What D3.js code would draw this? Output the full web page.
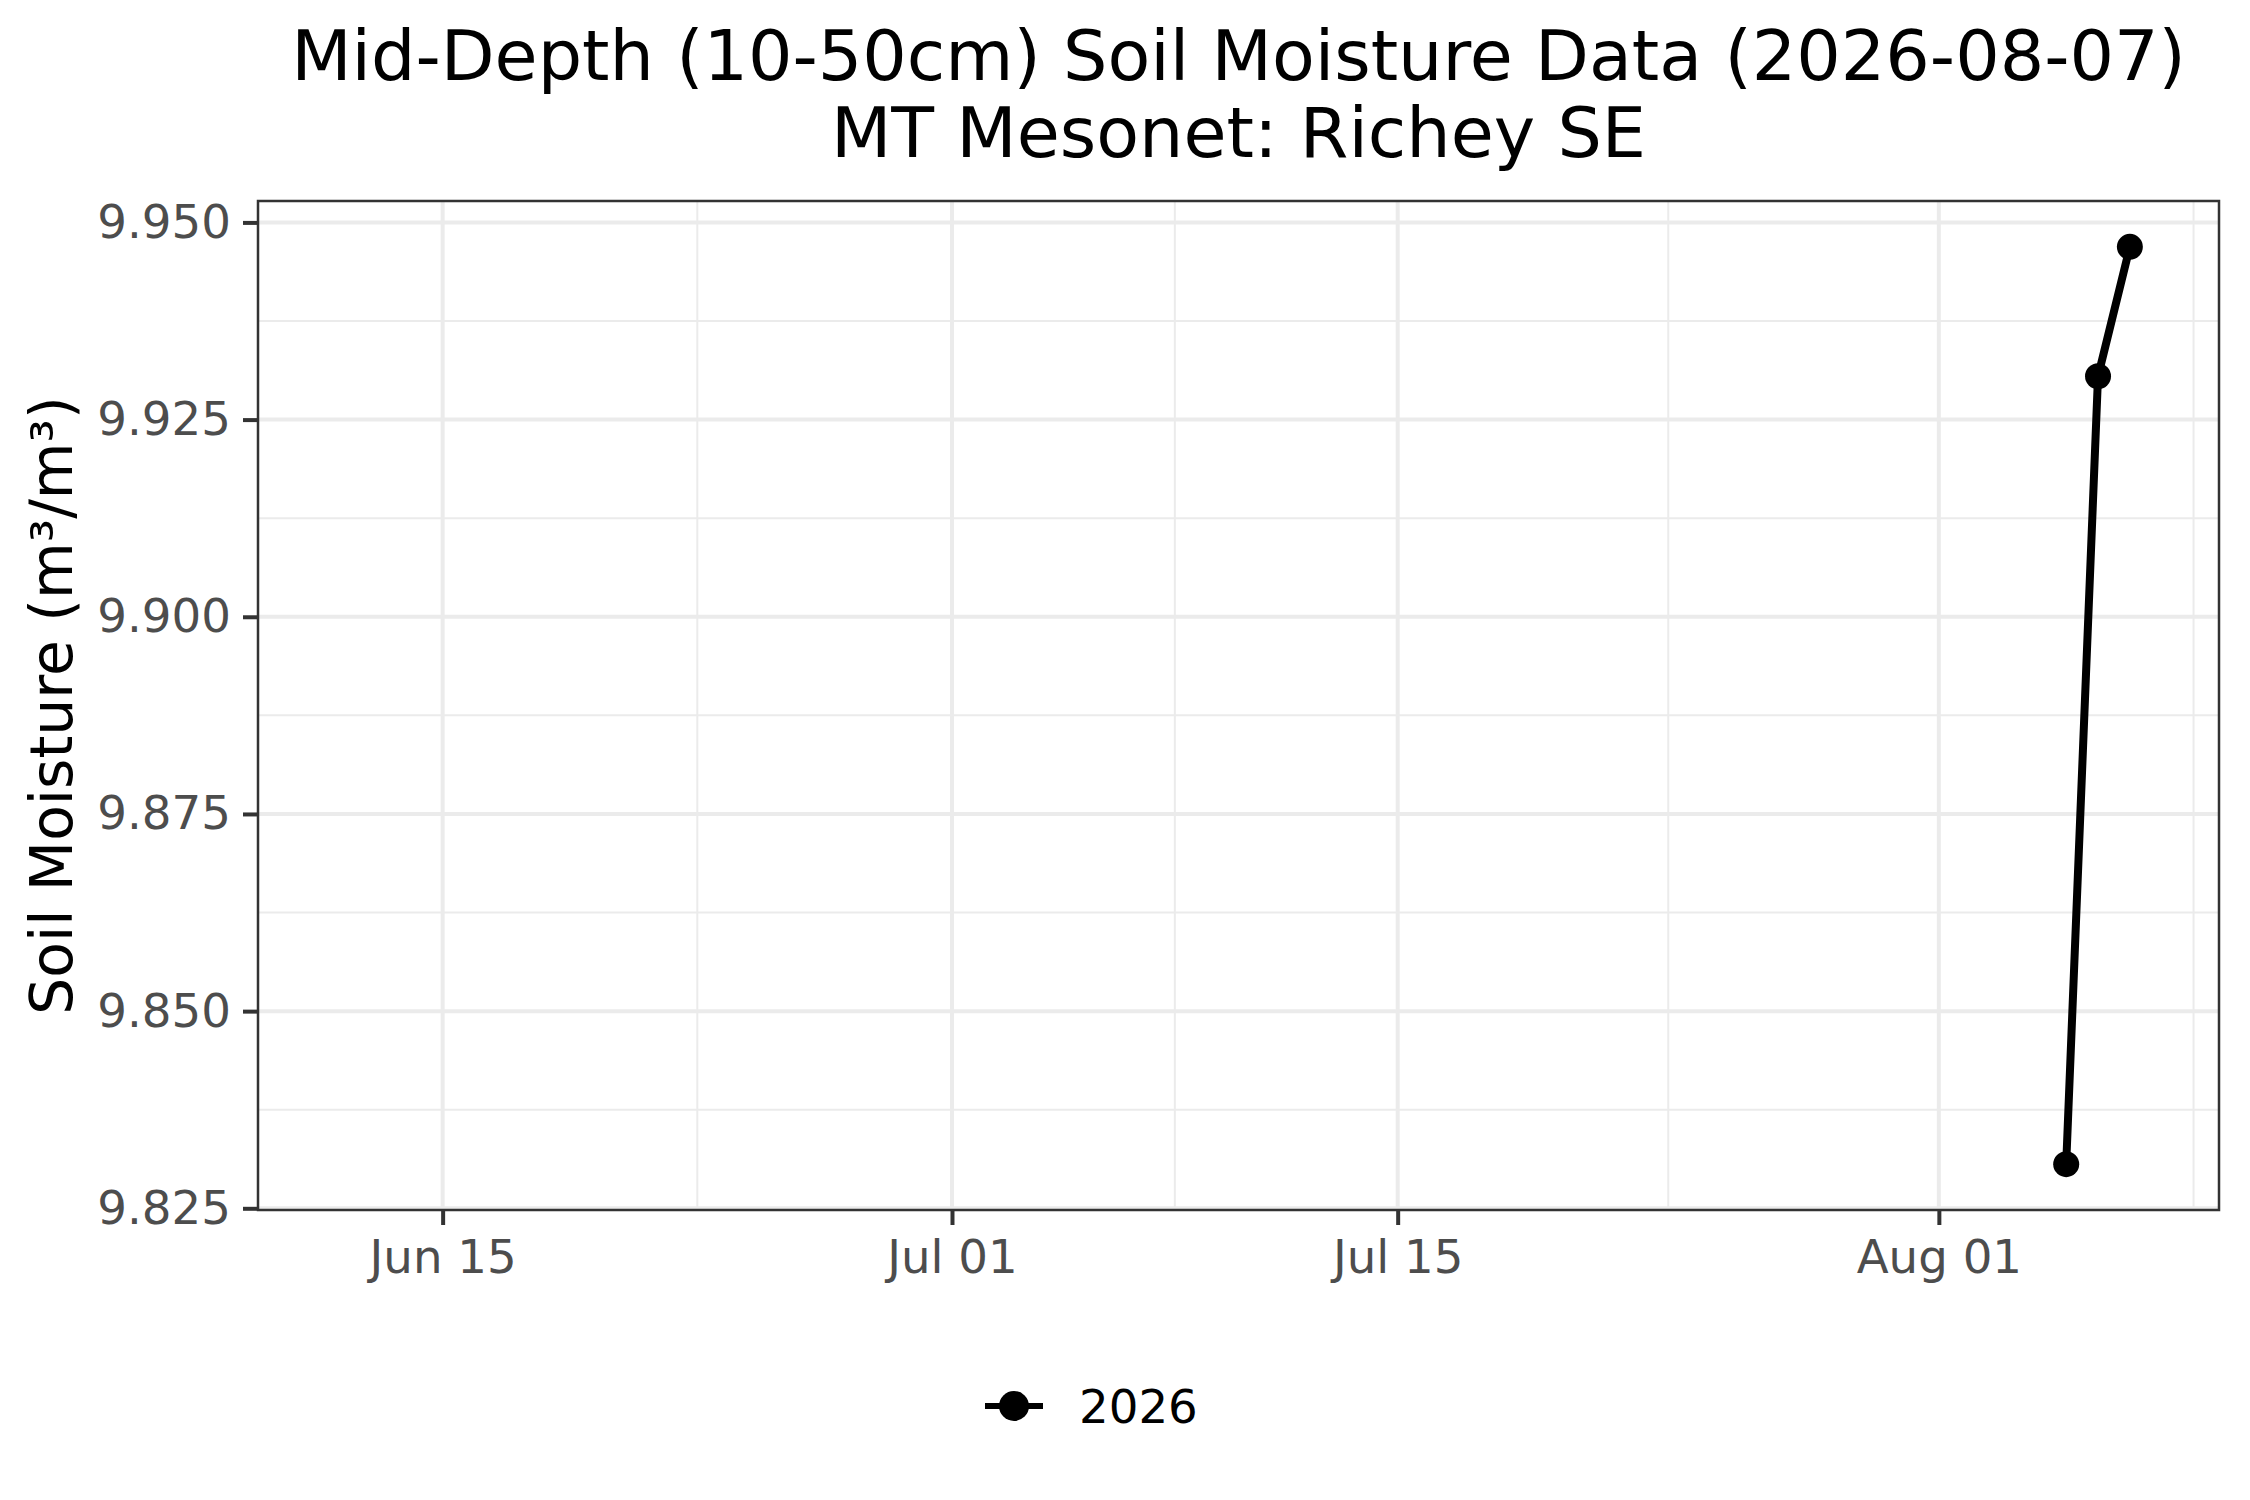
<!DOCTYPE html>
<html lang="en">
<head>
<meta charset="UTF-8">
<title>Soil Moisture</title>
<script src="https://d3js.org/d3.v7.min.js"></script>
<style>
  body { margin: 0; background: #fff; }
  text { font-family: "DejaVu Sans", sans-serif; }
</style>
</head>
<body>
<div id="chart"></div>
<script>

// data
const dates = ["2026-08-05", "2026-08-06", "2026-08-07"];
const moisture = [9.8306, 9.9305, 9.9469];
const seriesName = "2026";
// the x range the plot covers (data window)
const windowDates = ["2026-06-12", "2026-08-07"];
const xTickDates = ["2026-06-15", "2026-07-01", "2026-07-15", "2026-08-01"];
const xMinorDates = ["2026-06-23", "2026-07-08", "2026-07-23T12:00", "2026-08-09"];
const yTicks = [9.825, 9.850, 9.875, 9.900, 9.925, 9.950];
const yMinor = [9.8375, 9.8625, 9.8875, 9.9125, 9.9375];

const W = 2250, H = 1500;
const panel = {left: 258, right: 2219, top: 201, bottom: 1210};

const parse = d => new Date(d + (d.length === 10 ? "T00:00" : ""));
const data = dates.map((d, i) => ({date: parse(d), value: moisture[i]}));

const svg = d3.select("#chart").append("svg")
    .attr("width", W)
    .attr("height", H);

svg.append("rect").attr("width", W).attr("height", H).attr("fill", "#fff");

// scales with 5% expansion like ggplot
const xw = windowDates.map(parse);
const xspan = xw[1] - xw[0];
const x = d3.scaleTime()
    .domain([new Date(+xw[0] - xspan * 0.05), new Date(+xw[1] + xspan * 0.05)])
    .range([panel.left, panel.right]);

const yext = d3.extent(moisture);
const yspan = yext[1] - yext[0];
const y = d3.scaleLinear()
    .domain([yext[0] - yspan * 0.05, yext[1] + yspan * 0.05])
    .range([panel.bottom, panel.top]);

const g = svg.append("g");

// minor grid
g.selectAll(".ymin").data(yMinor).join("line")
    .attr("x1", panel.left).attr("x2", panel.right)
    .attr("y1", d => y(d)).attr("y2", d => y(d))
    .attr("stroke", "#ebebeb").attr("stroke-width", 2);
g.selectAll(".xmin").data(xMinorDates.map(parse)).join("line")
    .attr("y1", panel.top).attr("y2", panel.bottom)
    .attr("x1", d => x(d)).attr("x2", d => x(d))
    .attr("stroke", "#ebebeb").attr("stroke-width", 2);

// major grid
g.selectAll(".ymaj").data(yTicks).join("line")
    .attr("x1", panel.left).attr("x2", panel.right)
    .attr("y1", d => y(d)).attr("y2", d => y(d))
    .attr("stroke", "#ebebeb").attr("stroke-width", 4);
g.selectAll(".xmaj").data(xTickDates.map(parse)).join("line")
    .attr("y1", panel.top).attr("y2", panel.bottom)
    .attr("x1", d => x(d)).attr("x2", d => x(d))
    .attr("stroke", "#ebebeb").attr("stroke-width", 4);

// line + points
const line = d3.line()
    .x(d => x(d.date))
    .y(d => y(d.value));

svg.append("path")
    .datum(data)
    .attr("d", line)
    .attr("fill", "none")
    .attr("stroke", "#000")
    .attr("stroke-width", 8)
    .attr("stroke-linejoin", "round");

svg.selectAll(".pt").data(data).join("circle")
    .attr("cx", d => x(d.date))
    .attr("cy", d => y(d.value))
    .attr("r", 13)
    .attr("fill", "#000");

// panel border
svg.append("rect")
    .attr("x", panel.left).attr("y", panel.top)
    .attr("width", panel.right - panel.left)
    .attr("height", panel.bottom - panel.top)
    .attr("fill", "none")
    .attr("stroke", "#333333")
    .attr("stroke-width", 2.5);

// axes
const xAxis = d3.axisBottom(x)
    .tickValues(xTickDates.map(parse))
    .tickFormat(d3.timeFormat("%b %d"))
    .tickSize(15)
    .tickPadding(15);
const xg = svg.append("g")
    .attr("transform", `translate(0,${panel.bottom})`)
    .call(xAxis);

const yAxis = d3.axisLeft(y)
    .tickValues(yTicks)
    .tickFormat(d3.format(".3f"))
    .tickSize(15)
    .tickPadding(12);
const yg = svg.append("g")
    .attr("transform", `translate(${panel.left},0)`)
    .call(yAxis);

[xg, yg].forEach(a => {
  a.select(".domain").remove();
  a.selectAll(".tick line").attr("stroke", "#333333").attr("stroke-width", 4);
  a.selectAll(".tick text")
      .attr("fill", "#4d4d4d")
      .style("font-size", "46.7px")
      .style("font-family", "DejaVu Sans");
});

// titles
const cx = (panel.left + panel.right) / 2;
svg.append("text")
    .attr("x", cx).attr("y", 80)
    .attr("text-anchor", "middle")
    .style("font-size", "70px")
    .text("Mid-Depth (10-50cm) Soil Moisture Data (2026-08-07)");
svg.append("text")
    .attr("x", cx).attr("y", 157)
    .attr("text-anchor", "middle")
    .style("font-size", "70px")
    .text("MT Mesonet: Richey SE");

svg.append("text")
    .attr("transform", `translate(72,${(panel.top + panel.bottom) / 2}) rotate(-90)`)
    .attr("text-anchor", "middle")
    .style("font-size", "58.3px")
    .text("Soil Moisture (m³/m³)");

// legend
const leg = svg.append("g").attr("transform", "translate(1014,1406)");
leg.append("line")
    .attr("x1", -29).attr("x2", 29)
    .attr("stroke", "#000").attr("stroke-width", 6);
leg.append("circle").attr("r", 15).attr("fill", "#000");
leg.append("text")
    .attr("x", 65).attr("y", 17)
    .style("font-size", "46.7px")
    .text(seriesName);

</script>
</body>
</html>
